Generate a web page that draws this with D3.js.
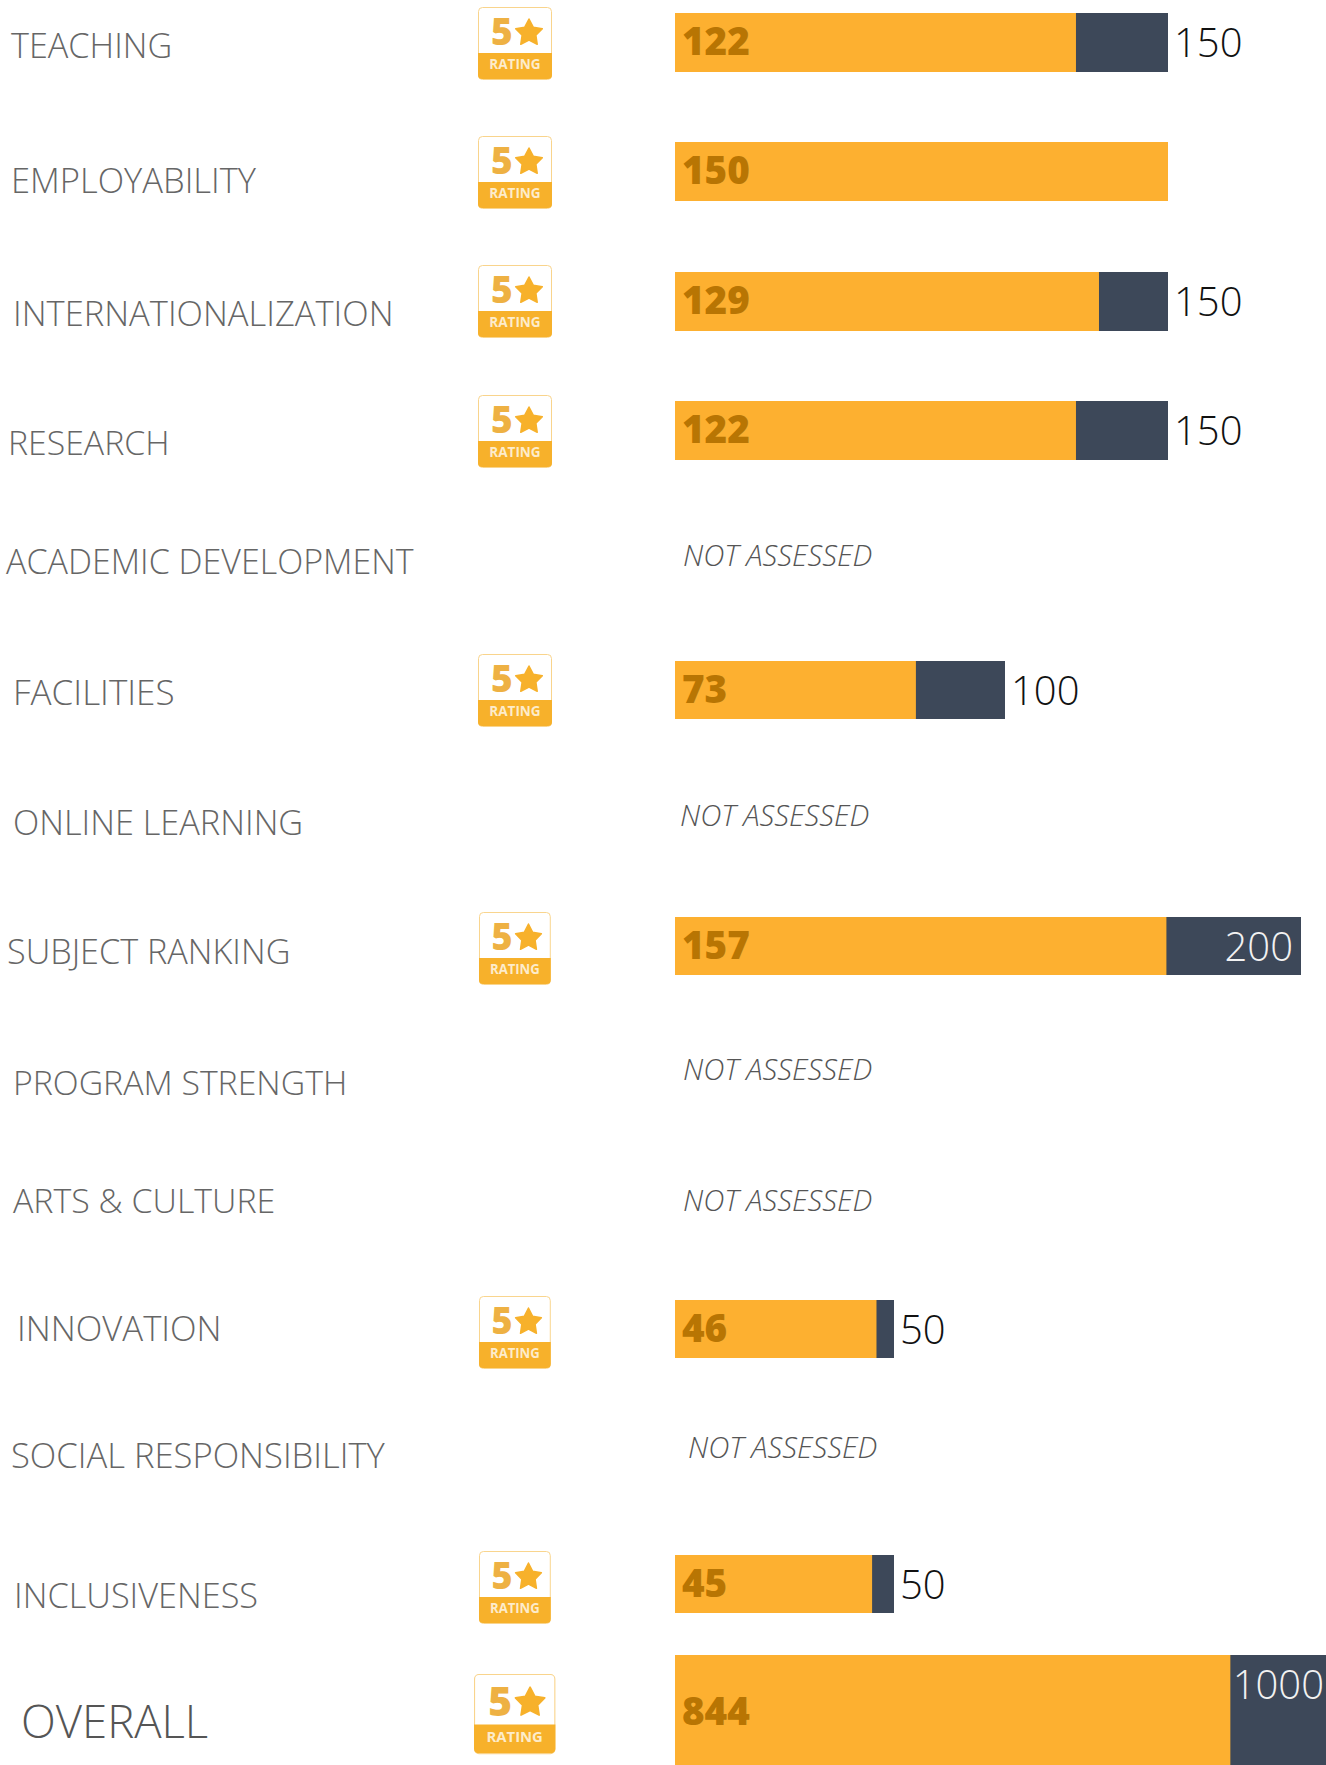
<!DOCTYPE html>
<html><head><meta charset="utf-8">
<script src="https://cdn.jsdelivr.net/npm/d3@7"></script>
<style>html,body{margin:0;padding:0;background:#fff}svg{display:block}text{font-family:"Open Sans",sans-serif}</style>
</head><body><svg id="c" width="1326" height="1765"></svg>
<script>
const categories = ["TEACHING","EMPLOYABILITY","INTERNATIONALIZATION","RESEARCH","ACADEMIC DEVELOPMENT","FACILITIES","ONLINE LEARNING","SUBJECT RANKING","PROGRAM STRENGTH","ARTS & CULTURE","INNOVATION","SOCIAL RESPONSIBILITY","INCLUSIVENESS","OVERALL"];
const scores = [122,150,129,122,null,73,null,157,null,null,46,null,45,844];
const maxima = [150,150,150,150,null,100,null,200,null,null,50,null,50,1000];
const ratings = [5,5,5,5,null,5,null,5,null,null,5,null,5,5];
const naLabel = "NOT ASSESSED";

const labelX = [11,11,13,8,6,13,13,7,13,13,17,11,14,21];
const labelY = [58,193,326,455,574,705,835,964,1095,1213,1341,1468,1608,1738];
const labelSize = [34.2,34.5,34.5,33.8,34,35,34.3,34.2,33.8,33.9,34.7,34.6,34.3,45.5];
const rowY = [13,142,272,401,0,661,0,917,0,0,1300,0,1555,1655];
const naX = [0,0,0,0,683,0,680,0,683,683,0,688,0,0];
const naY = [0,0,0,0,566,0,826,0,1080,1211,0,1458,0,0];
const badgeX = [478,478,478,478,0,478,0,479,0,0,479,0,479,474];
const badgeY = [7,136,265,395,0,654,0,912,0,0,1296,0,1551,1674];
const axisWidth = {50:219,100:330,150:493,200:626,1000:658};
const x0 = 675;
const svg = d3.select("#c");
const rows = categories.map((c,i)=>({c,i,score:scores[i],max:maxima[i],rating:ratings[i]}));
const starPts = d3.range(10).map(k=>[k*Math.PI/5, k%2?7.2:14]);
const starPath = d3.lineRadial().curve(d3.curveLinearClosed)(starPts);

svg.selectAll(".lab").data(rows).join("text").attr("class","lab")
 .attr("x",d=>labelX[d.i]).attr("y",d=>labelY[d.i])
 .attr("font-size",d=>labelSize[d.i])
 .attr("font-weight",300)
 .attr("fill",d=>d.c==="OVERALL"?"#555":"#666")
 .text(d=>d.c);

rows.filter(d=>d.max===null).forEach(d=>{
  svg.append("text").attr("x",naX[d.i]).attr("y",naY[d.i]).attr("font-size",29.4).attr("font-weight",300)
   .attr("font-style","italic").attr("fill","#555").text(naLabel);
});

rows.filter(d=>d.max!==null).forEach(d=>{
  const x = d3.scaleLinear().domain([0,d.max]).range([x0,x0+axisWidth[d.max]]);
  const big = d.c==="OVERALL";
  const y = rowY[d.i], h = big?110:(d.max===150?59:58);
  const g = svg.append("g");
  g.append("rect").attr("x",x(0)).attr("y",y).attr("width",x(d.max)-x(0)).attr("height",h).attr("fill","#3d4859");
  g.append("rect").attr("x",x(0)).attr("y",y).attr("width",x(d.score)-x(0)).attr("height",h).attr("fill","#fdb030");
  g.append("text").attr("x",x(0)+7).attr("y",big?y+70:y+42).attr("font-size",38.6).attr("font-weight",800)
   .attr("fill","#b87503").text(d.score);
  if(d.score<d.max){
    const inside = d.max>=200;
    g.append("text").attr("x",inside?(big?x0+651-2:x(d.max)-8):x(d.max)+6).attr("y",y+44)
     .attr("text-anchor",inside?"end":"start").attr("font-size",40).attr("font-weight",300)
     .attr("fill",inside?"#f2f2f2":"#111").text(d.max);
  }
  const sx = big?1.1:(badgeX[d.i]===479?0.97:1), sy = big?1.1:1;
  const b = svg.append("g").attr("transform",`translate(${badgeX[d.i]},${badgeY[d.i]}) scale(${sx},${sy})`);
  b.append("rect").attr("x",0.5).attr("y",0.5).attr("width",73).attr("height",72).attr("rx",4).attr("fill","#fff").attr("stroke","#f9d48c");
  b.append("path").attr("d","M0,46H74V68a4,4 0 0 1 -4,4H4a4,4 0 0 1 -4,-4Z").attr("fill","#f7b12b");
  b.append("text").attr("x",13).attr("y",38).attr("font-size",37).attr("font-weight",800).attr("fill","#eeb143").text(d.rating);
  b.append("path").attr("d",starPath).attr("transform","translate(51,26)").attr("fill","#f7b12b").attr("stroke","#f7b12b").attr("stroke-width",1.5).attr("stroke-linejoin","round");
  b.append("text").attr("x",37).attr("y",62).attr("text-anchor","middle").attr("font-size",13.5).attr("font-weight",700).attr("fill","#fdeccb").text("RATING");
});
</script></body></html>
